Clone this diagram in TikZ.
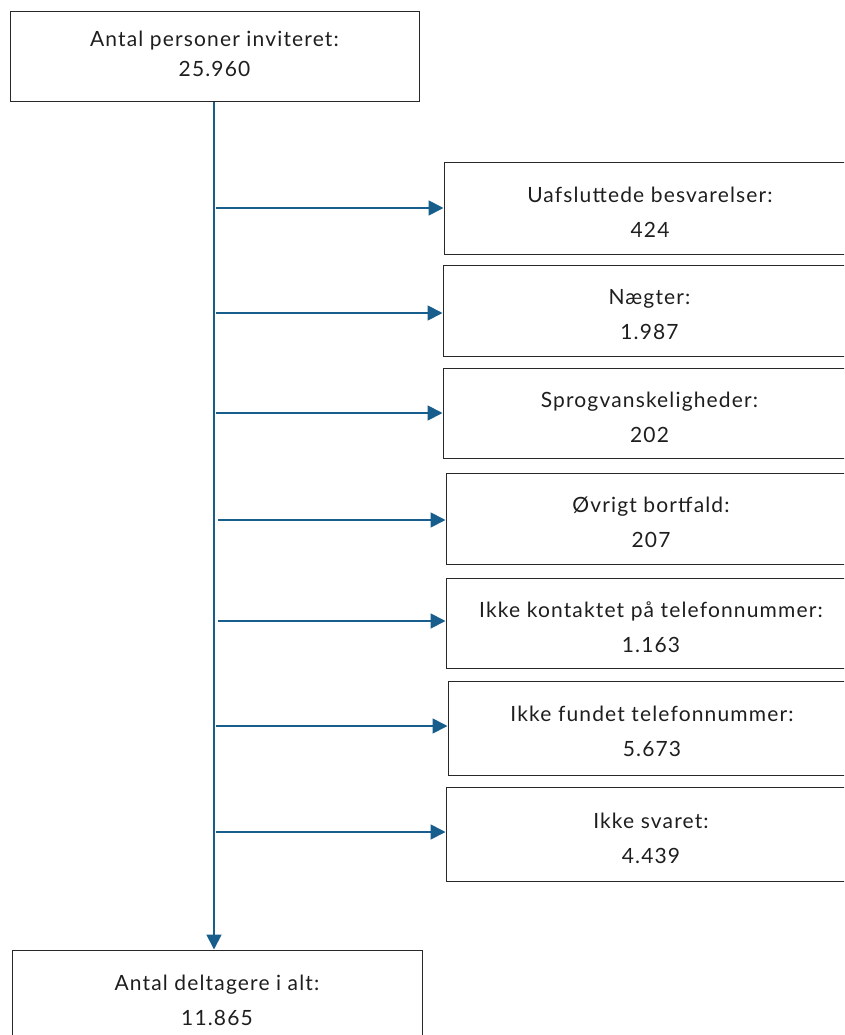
\documentclass[tikz,border=0pt]{standalone}
\usepackage{fontspec}
\setmainfont{Lato}[LetterSpace=5.5]
\usetikzlibrary{arrows.meta}
\definecolor{arrblue}{RGB}{24,94,140}
\definecolor{boxline}{RGB}{40,40,40}
\definecolor{txt}{RGB}{30,30,30}
\tikzset{
  box/.style={draw=boxline, line width=1pt, rectangle, inner sep=0pt},
  lbl/.style={align=center, inner sep=0pt, font=\fontsize{21}{35}\selectfont, text=txt},
  arr/.style={draw=arrblue, line width=1.8pt, -{Triangle[length=15pt,width=15pt]}},
}
\begin{document}
\begin{tikzpicture}[x=1pt,y=-1pt]
\useasboundingbox (0,0) rectangle (844,1035);
\clip (0,0) rectangle (844,1035);
\node[box, minimum width=409pt, minimum height=90pt,
  label={[lbl, font=\fontsize{21}{30}\selectfont, yshift=3pt]center:Antal personer inviteret:\\25.960}] (top) at (214.5,57) {};
\node[box, minimum width=412pt, minimum height=91pt,
  label={[lbl, yshift=-4pt]center:Uafsluttede besvarelser:\\424}] (r1) at (650,208.5) {};
\node[box, minimum width=413pt, minimum height=91pt,
  label={[lbl, yshift=-4pt]center:Nægter:\\1.987}] (r2) at (649.5,310.5) {};
\node[box, minimum width=413pt, minimum height=90pt,
  label={[lbl, yshift=-4pt]center:Sprogvanskeligheder:\\202}] (r3) at (649.5,413) {};
\node[box, minimum width=410pt, minimum height=91pt,
  label={[lbl, yshift=-4pt]center:Øvrigt bortfald:\\207}] (r4) at (651,518.5) {};
\node[box, minimum width=410pt, minimum height=90pt,
  label={[lbl, yshift=-4pt]center:Ikke kontaktet på telefonnummer:\\1.163}] (r5) at (651,623) {};
\node[box, minimum width=408pt, minimum height=94pt,
  label={[lbl, yshift=-3pt]center:Ikke fundet telefonnummer:\\5.673}] (r6) at (652,728) {};
\node[box, minimum width=410pt, minimum height=94pt,
  label={[lbl, yshift=-4pt]center:Ikke svaret:\\4.439}] (r7) at (651,834) {};
\node[box, minimum width=410pt, minimum height=100pt,
  label={[lbl, yshift=0pt]center:Antal deltagere i alt:\\11.865}] (bot) at (217,1000) {};
\draw[arr] (top.south -| 214,0) -- (bot.north -| 214,0);
\coordinate (t1) at (216,208);
\coordinate (t2) at (216,313);
\coordinate (t3) at (216,413);
\coordinate (t4) at (218,520);
\coordinate (t5) at (218,621);
\coordinate (t6) at (216,726);
\coordinate (t7) at (216,832);
\draw[arr] (t1) -- (r1.west |- t1);
\draw[arr] (t2) -- (r2.west |- t2);
\draw[arr] (t3) -- (r3.west |- t3);
\draw[arr] (t4) -- (r4.west |- t4);
\draw[arr] (t5) -- (r5.west |- t5);
\draw[arr] (t6) -- (r6.west |- t6);
\draw[arr] (t7) -- (r7.west |- t7);
\end{tikzpicture}
\end{document}
